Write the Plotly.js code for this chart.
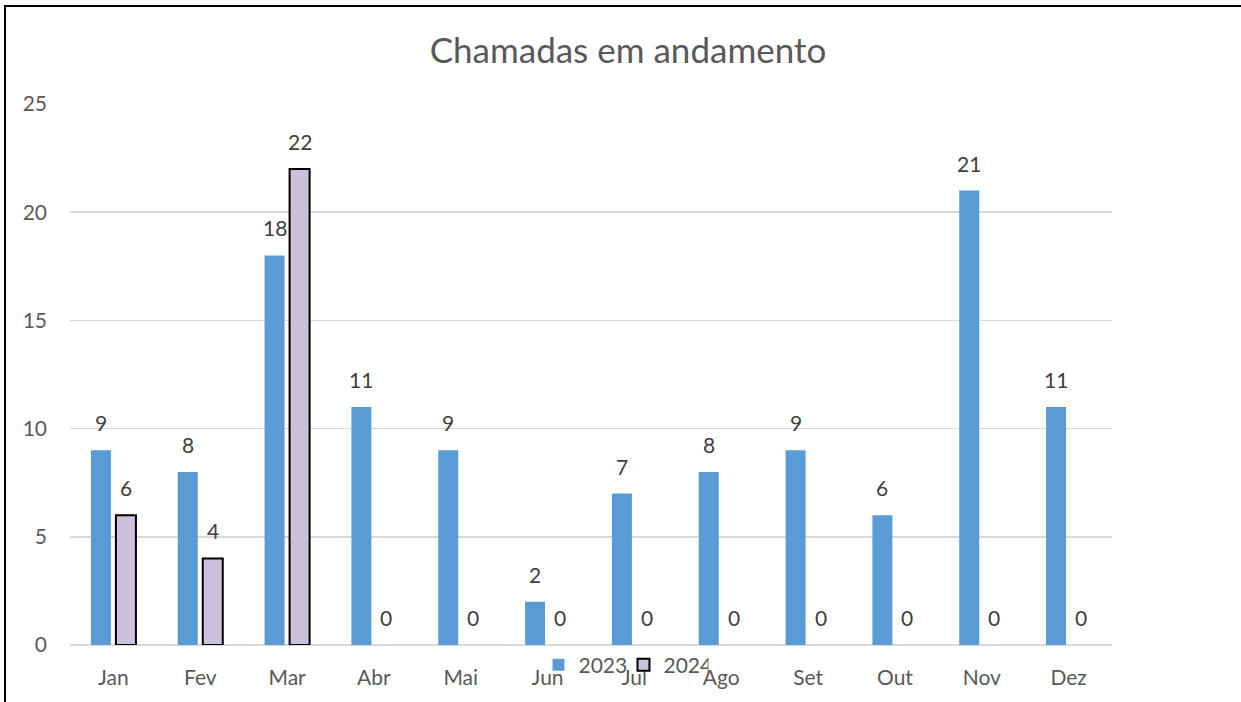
<!DOCTYPE html>
<html>
<head>
<meta charset="utf-8">
<script src="https://cdn.plot.ly/plotly-3.0.1.min.js"></script>
<style>
  html, body { margin: 0; padding: 0; overflow: hidden; background: #fff; }
  #chart { position: absolute; left: 0; top: 0; width: 1241px; height: 702px; }
  #frame { position: absolute; left: 4px; top: 5px; width: 1400px; height: 900px;
           border: 2px solid #000; pointer-events: none; box-sizing: border-box; }
</style>
</head>
<body>
<div id="chart"></div>
<div id="frame"></div>
<script>
const months = ["Jan", "Fev", "Mar", "Abr", "Mai", "Jun", "Jul", "Ago", "Set", "Out", "Nov", "Dez"];
const values2023 = [9, 8, 18, 11, 9, 2, 7, 8, 9, 6, 21, 11];
const values2024 = [6, 4, 22, 0, 0, 0, 0, 0, 0, 0, 0, 0];
const yTicks = [0, 5, 10, 15, 20, 25];

const FONT = "Lato, 'Open Sans', sans-serif";
const SIZE = 21;
const labelFont = { family: FONT, size: SIZE, color: "#404040" };

const traces = [
  {
    type: "bar", name: "2023", x: months, y: values2023,
    marker: { color: "#5B9BD5" }, hoverinfo: "x+y"
  },
  {
    type: "bar", name: "2024", x: months, y: values2024,
    marker: { color: "#CCC1DA",
              line: { color: "#000000", width: values2024.map(v => v > 0 ? 2 : 0) } },
    hoverinfo: "x+y"
  }
];

// data labels above each bar (offset to the bar's slot within its group)
const annotations = [];
[[values2023, -12.5], [values2024, 12.5]].forEach(([vals, dx]) => {
  vals.forEach((v, i) => {
    annotations.push({
      x: months[i], y: v, xref: "x", yref: "y", text: String(v), showarrow: false,
      xanchor: "center", yanchor: "bottom", xshift: dx, yshift: 13, font: labelFont
    });
  });
});

const layout = {
  width: 1241, height: 702,
  margin: { l: 70, r: 129, t: 104, b: 57, pad: 0 },
  paper_bgcolor: "#ffffff", plot_bgcolor: "#ffffff",
  font: { family: FONT, size: SIZE, color: "#595959" },
  title: { text: "Chamadas em andamento", font: { family: FONT, size: 35, color: "#595959" },
           x: 0.506, xanchor: "center", y: 0.928, yanchor: "middle" },
  barmode: "group", bargap: 0.424, bargroupgap: 0.2,
  annotations: annotations,
  showlegend: true,
  legend: { orientation: "h", x: 0.4496, xanchor: "left", y: -0.037, yanchor: "middle",
            font: { family: FONT, size: SIZE, color: "#595959" }, bgcolor: "rgba(0,0,0,0)",
            traceorder: "normal", itemwidth: 30, entrywidth: 40 },
  xaxis: { type: "category", showgrid: false, zeroline: false, showline: false, ticks: "",
           tickfont: { family: FONT, size: SIZE, color: "#595959" }, ticklabelstandoff: 18 },
  yaxis: { range: [0, 25], tickvals: yTicks, ticktext: yTicks.map(String), showgrid: true,
           gridcolor: "#D9D9D9", gridwidth: 1.5, zeroline: true, zerolinecolor: "#D9D9D9",
           zerolinewidth: 1.5, showline: false, ticks: "", ticklabelstandoff: 22,
           tickfont: { family: FONT, size: SIZE, color: "#595959" } }
};

Plotly.newPlot("chart", traces, layout, { displayModeBar: false, staticPlot: true });
</script>
</body>
</html>
